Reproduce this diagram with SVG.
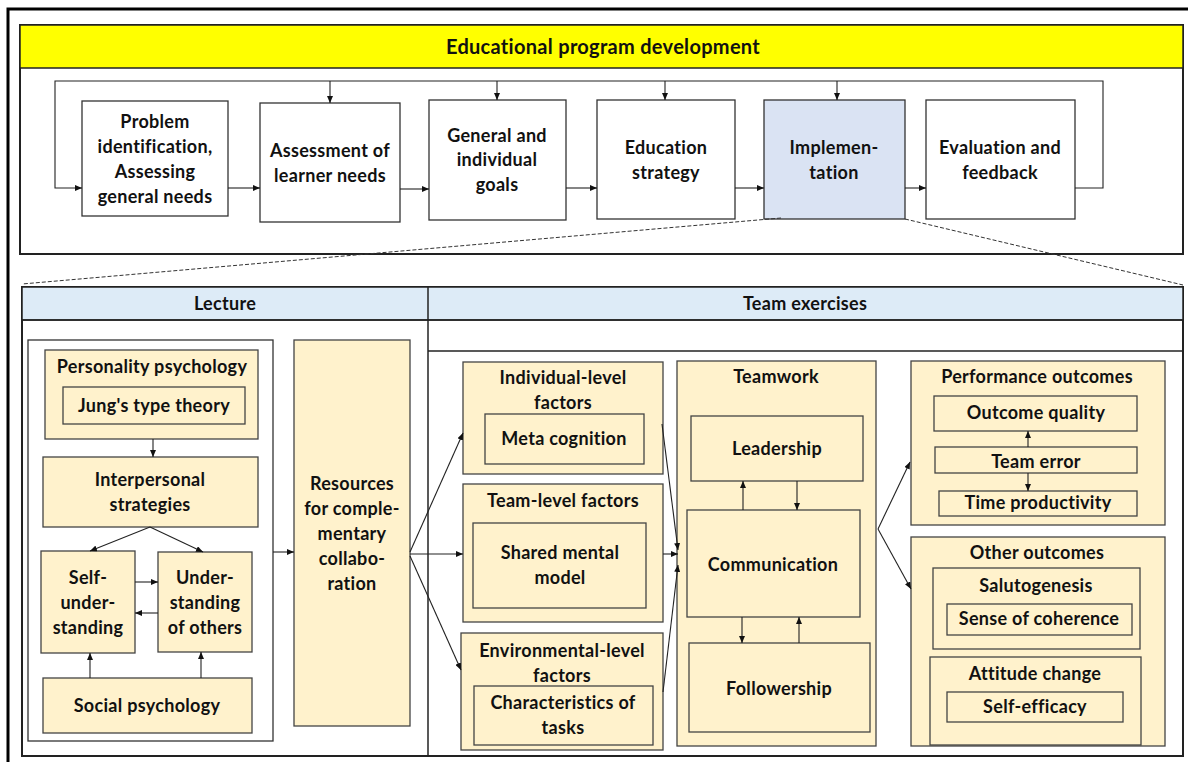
<svg xmlns="http://www.w3.org/2000/svg" width="1188" height="762" viewBox="0 0 1188 762">
<style>
.t{font-family:Lato,"Liberation Sans",sans-serif;font-weight:bold;font-size:18px;letter-spacing:0.3px;text-anchor:middle;fill:#111}
.w{fill:#fff;stroke:#333;stroke-width:1.3}
.y{fill:#fff2cc;stroke:#444;stroke-width:1.3}
.c{stroke:#222;stroke-width:1.1;fill:none}
.a{marker-end:url(#ah)}
.d{stroke:#333;stroke-width:1;stroke-dasharray:4 2;fill:none}
</style>
<defs>
<marker id="ah" markerWidth="7" markerHeight="6" refX="7" refY="3" orient="auto" markerUnits="userSpaceOnUse">
<path d="M0,0 L7,3 L0,6 Z" fill="#111"/>
</marker>
</defs>
<rect x="8" y="9" width="1200" height="800" fill="#fff" stroke="#000" stroke-width="3"/>

<g id="top-panel">
<rect x="20" y="25" width="1163" height="229" fill="#fff" stroke="#222" stroke-width="2"/>
<rect x="20" y="25" width="1163" height="43" fill="#ffff00" stroke="#222" stroke-width="1.5"/>
<text class="t" x="603" y="54" style="font-size:20px">Educational program development</text>
</g>

<g id="n-problem"><rect class="w" x="82" y="101" width="146" height="115"/>
<text class="t" x="155" y="128">Problem</text><text class="t" x="155" y="153">identification,</text><text class="t" x="155" y="178">Assessing</text><text class="t" x="155" y="203">general needs</text></g>
<g id="n-assessment"><rect class="w" x="260" y="103" width="140" height="119"/>
<text class="t" x="330" y="157">Assessment of</text><text class="t" x="330" y="182">learner needs</text></g>
<g id="n-goals"><rect class="w" x="429" y="100" width="137" height="120"/>
<text class="t" x="497" y="142">General and</text><text class="t" x="497" y="166">individual</text><text class="t" x="497" y="191">goals</text></g>
<g id="n-strategy"><rect class="w" x="597" y="100" width="138" height="119"/>
<text class="t" x="666" y="154">Education</text><text class="t" x="666" y="179">strategy</text></g>
<g id="n-implementation"><rect x="764" y="100" width="141" height="119" fill="#dae3f3" stroke="#333" stroke-width="1.3"/>
<text class="t" x="834" y="154">Implemen-</text><text class="t" x="834" y="179">tation</text></g>
<g id="n-evaluation"><rect class="w" x="926" y="100" width="149" height="119"/>
<text class="t" x="1000" y="154">Evaluation and</text><text class="t" x="1000" y="179">feedback</text></g>

<g id="lower-panel">
<rect x="22" y="287" width="1161" height="469" fill="#fff" stroke="#222" stroke-width="2"/>
<rect x="22" y="287" width="1161" height="33" fill="#ddebf7" stroke="#222" stroke-width="1.5"/>
<line x1="22" y1="320" x2="1183" y2="320" stroke="#222" stroke-width="1.5"/>
<line x1="428" y1="287" x2="428" y2="756" stroke="#222" stroke-width="1.5"/>
<line x1="428" y1="351" x2="1183" y2="351" stroke="#222" stroke-width="1.5"/>
<text class="t" x="225" y="310">Lecture</text>
<text class="t" x="805" y="310">Team exercises</text>
</g>

<g id="n-lecture-group"><rect x="28" y="340" width="245" height="401" fill="#fff" stroke="#333" stroke-width="1.3"/></g>
<g id="n-personality"><rect class="y" x="45" y="350" width="213" height="89"/>
<text class="t" x="152" y="373">Personality psychology</text></g>
<g id="n-jung"><rect class="y" x="63" y="387" width="182" height="37"/>
<text class="t" x="154" y="412">Jung's type theory</text></g>
<g id="n-interpersonal"><rect class="y" x="43" y="457" width="215" height="70"/>
<text class="t" x="150" y="486">Interpersonal</text><text class="t" x="150" y="511">strategies</text></g>
<g id="n-self"><rect class="y" x="41" y="551" width="94" height="102"/>
<text class="t" x="88" y="584">Self-</text><text class="t" x="88" y="609">under-</text><text class="t" x="88" y="634">standing</text></g>
<g id="n-others"><rect class="y" x="158" y="552" width="94" height="100"/>
<text class="t" x="205" y="584">Under-</text><text class="t" x="205" y="609">standing</text><text class="t" x="205" y="634">of others</text></g>
<g id="n-social"><rect class="y" x="43" y="678" width="209" height="55"/>
<text class="t" x="147" y="712">Social psychology</text></g>
<g id="n-resources"><rect class="y" x="294" y="340" width="116" height="386"/>
<text class="t" x="352" y="490">Resources</text><text class="t" x="352" y="515">for comple-</text><text class="t" x="352" y="540">mentary</text><text class="t" x="352" y="565">collabo-</text><text class="t" x="352" y="590">ration</text></g>

<g id="n-individual"><rect class="y" x="463" y="362" width="200" height="112"/>
<text class="t" x="563" y="384">Individual-level</text><text class="t" x="563" y="409">factors</text></g>
<g id="n-meta"><rect class="y" x="485" y="414" width="159" height="50"/>
<text class="t" x="564" y="445">Meta cognition</text></g>
<g id="n-teamlevel"><rect class="y" x="463" y="484" width="200" height="138"/>
<text class="t" x="563" y="507">Team-level factors</text></g>
<g id="n-shared"><rect class="y" x="473" y="523" width="173" height="85"/>
<text class="t" x="560" y="559">Shared mental</text><text class="t" x="560" y="584">model</text></g>
<g id="n-env"><rect class="y" x="461" y="633" width="202" height="117"/>
<text class="t" x="562" y="657">Environmental-level</text><text class="t" x="562" y="682">factors</text></g>
<g id="n-tasks"><rect class="y" x="474" y="686" width="179" height="59"/>
<text class="t" x="563" y="709">Characteristics of</text><text class="t" x="563" y="734">tasks</text></g>

<g id="n-teamwork"><rect class="y" x="677" y="361" width="199" height="385"/>
<text class="t" x="776" y="383">Teamwork</text></g>
<g id="n-leadership"><rect class="y" x="691" y="416" width="172" height="65"/>
<text class="t" x="777" y="455">Leadership</text></g>
<g id="n-communication"><rect class="y" x="687" y="510" width="173" height="107"/>
<text class="t" x="773" y="571">Communication</text></g>
<g id="n-followership"><rect class="y" x="689" y="643" width="181" height="89"/>
<text class="t" x="779" y="695">Followership</text></g>

<g id="n-performance"><rect class="y" x="911" y="361" width="254" height="164"/>
<text class="t" x="1037" y="383">Performance outcomes</text></g>
<g id="n-quality"><rect class="y" x="934" y="396" width="203" height="35"/>
<text class="t" x="1036" y="419">Outcome quality</text></g>
<g id="n-error"><rect class="y" x="935" y="447" width="202" height="26"/>
<text class="t" x="1036" y="468">Team error</text></g>
<g id="n-time"><rect class="y" x="939" y="491" width="198" height="25"/>
<text class="t" x="1038" y="509">Time productivity</text></g>
<g id="n-other"><rect class="y" x="911" y="537" width="254" height="209"/>
<text class="t" x="1037" y="559">Other outcomes</text></g>
<g id="n-saluto"><rect class="y" x="933" y="568" width="207" height="81"/>
<text class="t" x="1036" y="592">Salutogenesis</text></g>
<g id="n-coherence"><rect class="y" x="947" y="604" width="185" height="31"/>
<text class="t" x="1039" y="625">Sense of coherence</text></g>
<g id="n-attitude"><rect class="y" x="930" y="657" width="211" height="88"/>
<text class="t" x="1035" y="680">Attitude change</text></g>
<g id="n-efficacy"><rect class="y" x="947" y="692" width="176" height="30"/>
<text class="t" x="1035" y="713">Self-efficacy</text></g>

<g id="connectors">
<polyline class="c a" points="1075,188 1103,188 1103,81 55,81 55,188 82,188"/>
<line class="c a" x1="330" y1="81" x2="330" y2="103"/>
<line class="c a" x1="497" y1="81" x2="497" y2="100"/>
<line class="c a" x1="665" y1="81" x2="665" y2="100"/>
<line class="c a" x1="837" y1="81" x2="837" y2="100"/>
<line class="c a" x1="228" y1="188" x2="260" y2="188"/>
<line class="c a" x1="400" y1="189" x2="429" y2="189"/>
<line class="c a" x1="566" y1="188" x2="597" y2="188"/>
<line class="c a" x1="735" y1="188" x2="764" y2="188"/>
<line class="c a" x1="905" y1="188" x2="926" y2="188"/>
<line class="d" x1="781" y1="218" x2="22" y2="284"/>
<line class="d" x1="905" y1="219" x2="1183" y2="285"/>
<line class="c a" x1="153" y1="439" x2="153" y2="457"/>
<line class="c a" x1="150" y1="527" x2="90" y2="551"/>
<line class="c a" x1="150" y1="527" x2="203" y2="552"/>
<line class="c a" x1="135" y1="582" x2="158" y2="582"/>
<line class="c a" x1="158" y1="613" x2="135" y2="613"/>
<line class="c a" x1="90" y1="678" x2="90" y2="653"/>
<line class="c a" x1="201" y1="678" x2="201" y2="652"/>
<line class="c a" x1="273" y1="552" x2="294" y2="552"/>
<line class="c a" x1="410" y1="552" x2="463" y2="433"/>
<line class="c a" x1="410" y1="554" x2="463" y2="554"/>
<line class="c a" x1="410" y1="556" x2="461" y2="670"/>
<line class="c a" x1="662" y1="424" x2="678" y2="550"/>
<line class="c a" x1="663" y1="554" x2="678" y2="554"/>
<line class="c a" x1="663" y1="692" x2="678" y2="565"/>
<line class="c a" x1="743" y1="510" x2="743" y2="481"/>
<line class="c a" x1="797" y1="481" x2="797" y2="510"/>
<line class="c a" x1="742" y1="617" x2="742" y2="643"/>
<line class="c a" x1="799" y1="643" x2="799" y2="617"/>
<line class="c a" x1="878" y1="529" x2="910" y2="462"/>
<line class="c a" x1="878" y1="529" x2="911" y2="589"/>
<line class="c a" x1="1028" y1="447" x2="1028" y2="431"/>
<line class="c a" x1="1028" y1="473" x2="1028" y2="491"/>
</g>
</svg>
